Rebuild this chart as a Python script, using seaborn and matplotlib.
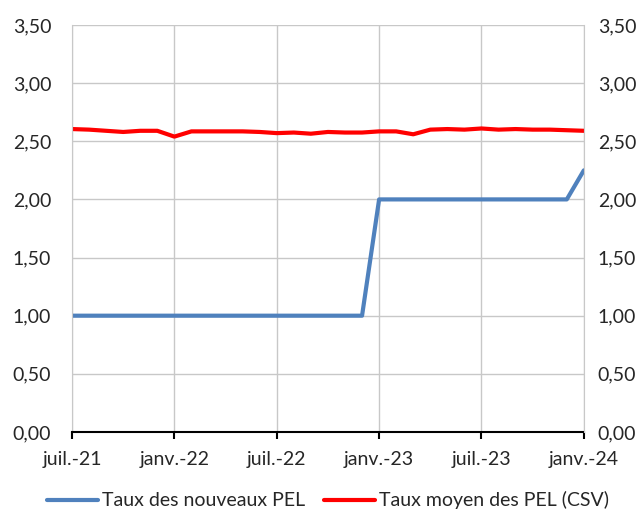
import matplotlib
matplotlib.use('Agg')
import matplotlib.pyplot as plt
import seaborn as sns
import pandas as pd
from matplotlib.ticker import FuncFormatter

# Données mensuelles juil.-21 -> janv.-24
mois = pd.date_range('2021-07-01', '2024-01-01', freq='MS')
taux_nouveaux = [1.00] * 18 + [2.00] * 12 + [2.25]
taux_moyen = [2.605, 2.60, 2.59, 2.58, 2.59, 2.59, 2.54, 2.585, 2.585, 2.585,
              2.585, 2.58, 2.57, 2.575, 2.565, 2.58, 2.575, 2.575, 2.585, 2.585,
              2.56, 2.60, 2.605, 2.60, 2.61, 2.60, 2.605, 2.60, 2.60, 2.595, 2.59]
tick_labels = ['juil.-21', 'janv.-22', 'juil.-22', 'janv.-23', 'juil.-23', 'janv.-24']

data = pd.DataFrame({'x': range(len(mois)),
                     'Taux des nouveaux PEL': taux_nouveaux,
                     'Taux moyen des PEL (CSV)': taux_moyen})

sns.set_style('white')
plt.rcParams['font.family'] = ['Lato', 'DejaVu Sans']

fig = plt.figure(figsize=(6.43, 5.15), dpi=100)
ax = fig.add_axes([0.112, 0.1612, 0.796, 0.7903])

sns.lineplot(data=data, x='x', y='Taux des nouveaux PEL', color='#4f81bd',
             linewidth=3, ax=ax, label='Taux des nouveaux PEL')
sns.lineplot(data=data, x='x', y='Taux moyen des PEL (CSV)', color='#ff0000',
             linewidth=3, ax=ax, label='Taux moyen des PEL (CSV)')

fmt = FuncFormatter(lambda v, p: f'{v:.2f}'.replace('.', ','))
ax.set_xlim(0, 30)
ax.set_ylim(0, 3.5)
ax.set_xticks(range(0, 31, 6))
ax.set_xticklabels(tick_labels, fontsize=14)
ax.set_yticks([i * 0.5 for i in range(8)])
ax.yaxis.set_major_formatter(fmt)
ax.tick_params(axis='y', labelsize=14, length=0, pad=15)
ax.tick_params(axis='x', bottom=True, length=5, width=1.5, color='black',
               direction='out', pad=9)
ax.set_xlabel('')
ax.set_ylabel('')
ax.grid(True, color='#c8c8c8', linewidth=1)
for s in ['top', 'right']:
    ax.spines[s].set_visible(False)
ax.spines['left'].set_color('#c8c8c8')
ax.spines['bottom'].set_color('black')
ax.spines['bottom'].set_linewidth(1.5)
ax.spines['bottom'].set_zorder(5)

ax2 = ax.twinx()
ax2.set_ylim(0, 3.5)
ax2.set_yticks([i * 0.5 for i in range(8)])
ax2.yaxis.set_major_formatter(fmt)
ax2.tick_params(axis='y', labelsize=14, length=0, pad=10)
for s in ax2.spines.values():
    s.set_visible(False)
ax2.spines['right'].set_visible(True)
ax2.spines['right'].set_color('#c8c8c8')

leg = ax.legend(loc='center', bbox_to_anchor=(0.5, -0.168), ncol=2,
                frameon=False, fontsize=14, handlelength=2.6, handletextpad=0.2,
                columnspacing=1.0)

fig.savefig('out.png', dpi=100)
